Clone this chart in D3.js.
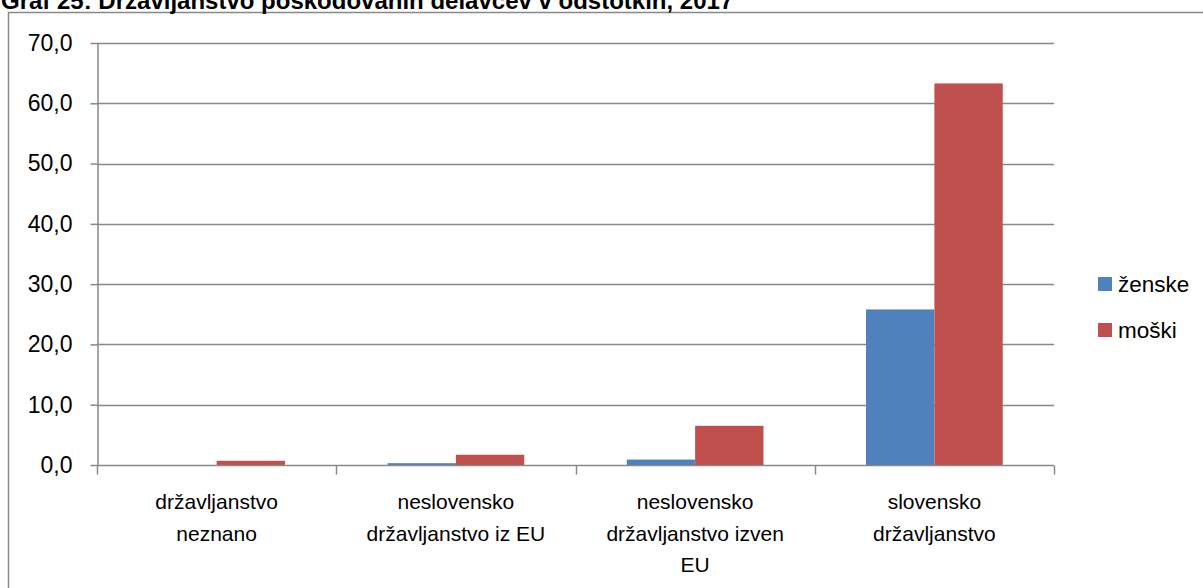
<!DOCTYPE html>
<html>
<head>
<meta charset="utf-8">
<script src="https://cdn.jsdelivr.net/npm/d3@7"></script>
<style>
  html, body { margin: 0; padding: 0; background: #fff; }
  svg { display: block; }
  text { font-family: Carlito, Calibri, "Liberation Sans", Arial, sans-serif; fill: #000; }
</style>
</head>
<body>
<svg id="chart" width="1203" height="588"></svg>
<script>
// Injured workers by citizenship, 2017 (percent)
const title = "Graf 25: Državljanstvo poškodovanih delavcev v odstotkih, 2017";
const categories = [
  "državljanstvo\nneznano",
  "neslovensko\ndržavljanstvo iz EU",
  "neslovensko\ndržavljanstvo izven\nEU",
  "slovensko\ndržavljanstvo"
];
const seriesNames = ["ženske", "moški"];
const zenske = [0.0, 0.3, 0.9, 25.8];
const moski  = [0.7, 1.7, 6.5, 63.3];
const yTicks = [0, 10, 20, 30, 40, 50, 60, 70];
const colors = ["#4F81BD", "#C0504D"];

const values = [zenske, moski];
const gridColor = "#898989";

const svg = d3.select("#chart");

const plot = { left: 97, right: 1054, top: 43, bottom: 465 };

const x = d3.scaleBand().domain(categories).range([plot.left, plot.right]).padding(0);
const xInner = d3.scaleBand().domain(seriesNames).range([0, x.bandwidth()])
  .paddingInner(0).paddingOuter(0.75);
const y = d3.scaleLinear().domain([0, 70]).range([plot.bottom, plot.top]);

const fmt = d3.formatLocale({ decimal: ",", thousands: ".", grouping: [3], currency: ["", " €"] }).format(".1f");

// Outer frame (left and top edges)
svg.append("path")
  .attr("d", `M8.5,588V12.5H1203`)
  .attr("fill", "none")
  .attr("stroke", gridColor)
  .attr("stroke-width", 1.5);

// Title
svg.append("text")
  .attr("x", 1)
  .attr("y", 8.5)
  .style("font-family", "'Liberation Sans', Arial, sans-serif")
  .style("font-weight", "bold")
  .style("font-size", "24px")
  .text(title);

// Horizontal gridlines
svg.append("g")
  .selectAll("line")
  .data(yTicks.filter(d => d > 0))
  .join("line")
  .attr("x1", plot.left)
  .attr("x2", plot.right)
  .attr("y1", d => Math.round(y(d)) + 0.5)
  .attr("y2", d => Math.round(y(d)) + 0.5)
  .attr("stroke", gridColor)
  .attr("stroke-width", 1.5);

// Bars
const groups = svg.append("g")
  .selectAll("g")
  .data(seriesNames)
  .join("g")
  .attr("fill", (d, i) => colors[i]);

groups.selectAll("rect")
  .data((s, si) => categories.map((c, ci) => ({ c, s, v: values[si][ci] })))
  .join("rect")
  .attr("x", d => x(d.c) + xInner(d.s))
  .attr("width", xInner.bandwidth())
  .attr("y", d => y(d.v))
  .attr("height", d => y(0) - y(d.v));

// Y axis
const yAxis = svg.append("g")
  .attr("transform", `translate(${plot.left + 0.5},0)`)
  .call(d3.axisLeft(y).tickValues(yTicks).tickFormat(fmt).tickSize(7).tickPadding(18).tickSizeOuter(0));
yAxis.select(".domain").attr("stroke", gridColor).attr("stroke-width", 1.5);
yAxis.selectAll(".tick line").attr("stroke", gridColor).attr("stroke-width", 1.5);
yAxis.selectAll(".tick text")
  .style("font-family", "'Liberation Sans', Arial, sans-serif")
  .style("font-size", "23px")
  .attr("fill", "#000");

// X axis baseline and category separators
const xAxis = svg.append("g")
  .attr("transform", `translate(0,${Math.round(y(0)) + 0.5})`);
xAxis.append("line")
  .attr("x1", plot.left).attr("x2", plot.right)
  .attr("stroke", gridColor).attr("stroke-width", 1.5);
const boundaries = categories.map(c => x(c)).concat([plot.right]);
xAxis.selectAll("line.sep")
  .data(boundaries)
  .join("line")
  .attr("class", "sep")
  .attr("x1", d => Math.round(d) + 0.5).attr("x2", d => Math.round(d) + 0.5)
  .attr("y1", 0).attr("y2", 9)
  .attr("stroke", gridColor).attr("stroke-width", 1.5);

// Category labels
const labels = svg.append("g")
  .selectAll("text")
  .data(categories)
  .join("text")
  .attr("text-anchor", "middle")
  .attr("x", d => x(d) + x.bandwidth() / 2)
  .attr("y", 509)
  .style("font-family", "'Liberation Sans', Arial, sans-serif")
  .style("font-size", "21px");
labels.selectAll("tspan")
  .data(d => d.split("\n"))
  .join("tspan")
  .attr("x", function () { return d3.select(this.parentNode).attr("x"); })
  .attr("dy", (d, i) => i === 0 ? 0 : 31.5)
  .text(d => d);

// Legend
const legend = svg.append("g")
  .selectAll("g")
  .data(seriesNames)
  .join("g")
  .attr("transform", (d, i) => `translate(1098,${284 + i * 46})`);
legend.append("rect")
  .attr("x", 0).attr("y", -7)
  .attr("width", 14).attr("height", 14)
  .attr("fill", (d, i) => colors[i]);
legend.append("text")
  .attr("x", 20)
  .attr("y", 0)
  .attr("dy", "0.35em")
  .style("font-family", "'Liberation Sans', Arial, sans-serif")
  .style("font-size", "22.5px")
  .text(d => d);
</script>
</body>
</html>
